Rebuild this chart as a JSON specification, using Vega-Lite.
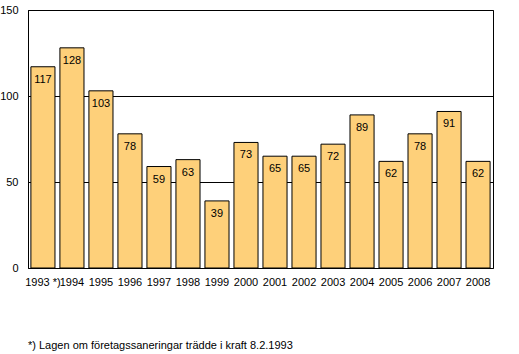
{
  "$schema": "https://vega.github.io/schema/vega-lite/v6.json",
  "autosize": {"type": "none"},
  "width": 465,
  "height": 258,
  "padding": {"left": 28, "top": 10, "right": 26, "bottom": 86},
  "background": "white",
  "config": {
    "font": "Liberation Sans",
    "view": {"stroke": "black", "strokeWidth": 1},
    "axis": {"labelFont": "Liberation Sans", "labelFontSize": 11, "labelColor": "black", "domain": false, "ticks": false}
  },
  "title": {
    "text": "*) Lagen om företagssaneringar trädde i kraft 8.2.1993",
    "orient": "bottom",
    "anchor": "start",
    "frame": "group",
    "font": "Liberation Sans",
    "fontSize": 11,
    "fontWeight": "normal",
    "color": "black",
    "offset": 53,
    "dx": 0
  },
  "data": {
    "values": [
      {"year": "1993 *)", "value": 117},
      {"year": "1994", "value": 128},
      {"year": "1995", "value": 103},
      {"year": "1996", "value": 78},
      {"year": "1997", "value": 59},
      {"year": "1998", "value": 63},
      {"year": "1999", "value": 39},
      {"year": "2000", "value": 73},
      {"year": "2001", "value": 65},
      {"year": "2002", "value": 65},
      {"year": "2003", "value": 72},
      {"year": "2004", "value": 89},
      {"year": "2005", "value": 62},
      {"year": "2006", "value": 78},
      {"year": "2007", "value": 91},
      {"year": "2008", "value": 62}
    ]
  },
  "encoding": {
    "x": {
      "field": "year",
      "type": "nominal",
      "sort": null,
      "title": null,
      "scale": {"paddingInner": 0.17, "paddingOuter": 0.1},
      "axis": {"labelAngle": 0, "labelPadding": 8, "grid": false}
    },
    "y": {
      "field": "value",
      "type": "quantitative",
      "title": null,
      "scale": {"domain": [0, 150], "nice": false},
      "axis": {"values": [0, 50, 100, 150], "grid": true, "gridColor": "black", "gridOpacity": 1, "gridWidth": 1, "labelPadding": 10, "domain": true, "domainColor": "black"}
    }
  },
  "layer": [
    {
      "mark": {"type": "bar", "color": "#FED07A", "stroke": "black", "strokeWidth": 1}
    },
    {
      "mark": {"type": "text", "baseline": "top", "dy": 7, "fontSize": 11, "color": "black", "font": "Liberation Sans"},
      "encoding": {"text": {"field": "value", "type": "quantitative"}}
    }
  ]
}
